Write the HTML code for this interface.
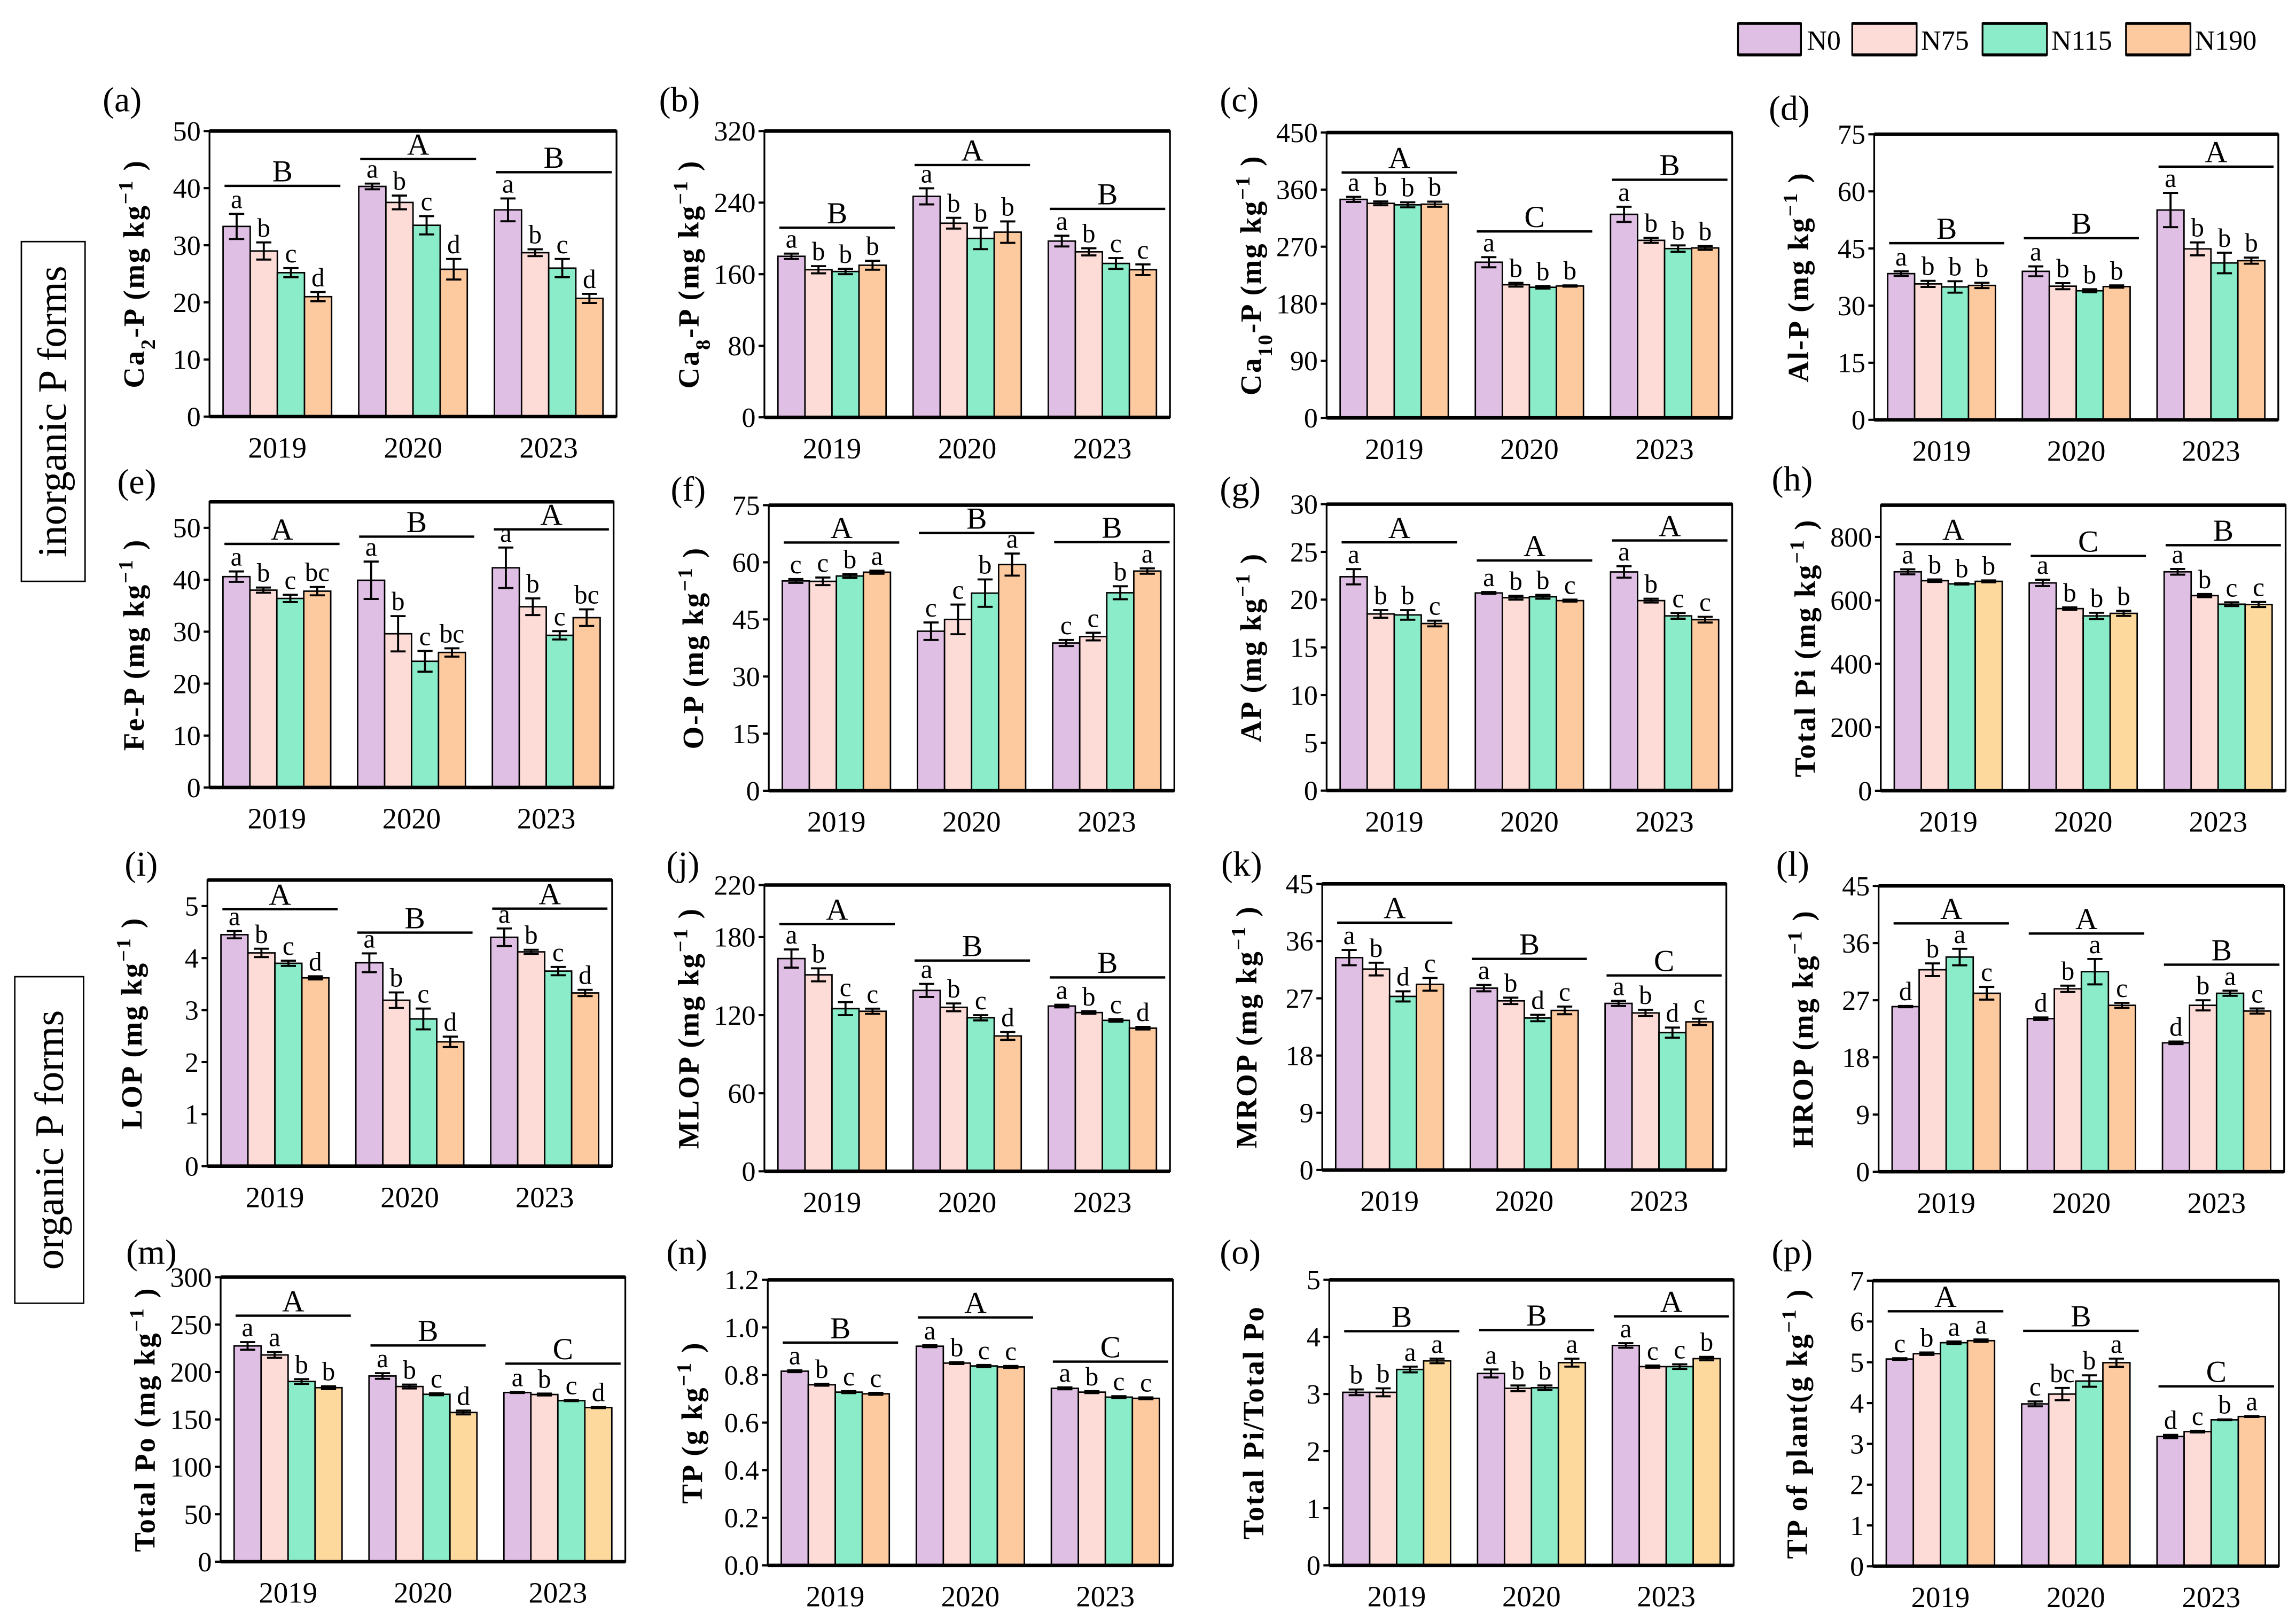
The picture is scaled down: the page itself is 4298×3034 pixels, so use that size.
<!DOCTYPE html>
<html><head><meta charset="utf-8"><title>P forms chart</title>
<style>
html,body{margin:0;padding:0;background:#fff;}
svg{display:block;}
text{font-family:"Liberation Serif",serif;fill:#000;}
</style></head>
<body>
<svg id="chart" xmlns="http://www.w3.org/2000/svg" width="4298" height="3034" viewBox="0 0 1568 1107">
<rect x="0" y="0" width="1568" height="1107" fill="#fff"/>
<g>
 <g><rect x="1187" y="16" width="43" height="21.5" fill="#e0bfe5" stroke="#000" stroke-width="1.2"/><line x1="1187" y1="16" x2="1230" y2="16" stroke="#000" stroke-width="2"/><line x1="1187" y1="37.5" x2="1230" y2="37.5" stroke="#000" stroke-width="2"/><text x="1234" y="34" font-size="19">N0</text></g>
 <g><rect x="1265" y="16" width="44" height="21.5" fill="#fddcd8" stroke="#000" stroke-width="1.2"/><line x1="1265" y1="16" x2="1309" y2="16" stroke="#000" stroke-width="2"/><line x1="1265" y1="37.5" x2="1309" y2="37.5" stroke="#000" stroke-width="2"/><text x="1312" y="34" font-size="19">N75</text></g>
 <g><rect x="1354" y="16" width="44" height="21.5" fill="#8aecc8" stroke="#000" stroke-width="1.2"/><line x1="1354" y1="16" x2="1398" y2="16" stroke="#000" stroke-width="2"/><line x1="1354" y1="37.5" x2="1398" y2="37.5" stroke="#000" stroke-width="2"/><text x="1401" y="34" font-size="19">N115</text></g>
 <g><rect x="1452" y="16" width="44" height="21.5" fill="#fdc99e" stroke="#000" stroke-width="1.2"/><line x1="1452" y1="16" x2="1496" y2="16" stroke="#000" stroke-width="2"/><line x1="1452" y1="37.5" x2="1496" y2="37.5" stroke="#000" stroke-width="2"/><text x="1499" y="34" font-size="19">N190</text></g>
</g>
<g>
 <rect x="14.5" y="165" width="43.5" height="232" fill="none" stroke="#000" stroke-width="1"/>
 <text x="0" y="0" font-size="28" text-anchor="middle" transform="translate(45,281) rotate(-90)">inorganic P forms</text>
</g>
<g>
 <rect x="10" y="667" width="47" height="223" fill="none" stroke="#000" stroke-width="1"/>
 <text x="0" y="0" font-size="28" text-anchor="middle" transform="translate(43,778.5) rotate(-90)">organic P forms</text>
</g>
<g id="panels"></g>
</svg>
<script>
const groups = ['2019','2020','2023'];
const seriesNames = ['N0','N75','N115','N190'];

const aVal = [33.3,29,25.2,21, 40.3,37.5,33.5,25.8, 36.2,28.7,26,20.7];
const aErr = [2.2,1.5,0.8,0.8, 0.5,1.2,1.6,1.8, 2,0.6,1.6,0.8];
const aLet = ['a','b','c','d','a','b','c','d','a','b','c','d'];
const aGrp = ['B','A','B'];
const aLine = [40.4,45.1,42.8];

const bVal = [180,165,163,170, 247,217,200,207, 197,185,172,165];
const bErr = [3,4,3,5, 9,6,12,12, 6,4,6,6];
const bLet = ['a','b','b','b','a','b','b','b','a','b','c','c'];
const bGrp = ['B','A','B'];
const bLine = [212,282,233];

const cVal = [344.6,338.3,336,337, 245.5,210,206,208, 321,280,267,268];
const cErr = [4,3,4,4, 8,3,2,1, 12,4,5,3];
const cLet = ['a','b','b','b','a','b','b','b','a','b','b','b'];
const cGrp = ['A','C','B'];
const cLine = [387,294,375.5];

const dVal = [38.4,35.7,34.9,35.3, 39,35.1,33.9,35, 55.1,44.9,41.2,41.8];
const dErr = [0.6,0.8,1.5,0.7, 1.3,0.8,0.4,0.3, 4.5,1.7,2.7,0.8];
const dLet = ['a','b','b','b','a','b','b','b','a','b','b','b'];
const dGrp = ['B','B','A'];
const dLine = [46.4,47.7,66.5];

const eVal = [40.6,38,36.4,37.8, 39.9,29.6,24.3,26, 42.3,34.8,29.3,32.7];
const eErr = [1,0.5,0.7,0.8, 3.6,3.4,2,0.8, 3.9,1.6,0.8,1.6];
const eLet = ['a','b','c','bc','a','b','c','bc','a','b','c','bc'];
const eGrp = ['A','B','A'];
const eLine = [46.9,48.3,49.7];

const fVal = [55.1,55,56.4,57.4, 41.9,45,51.9,59.4, 38.8,40.5,52,57.7];
const fErr = [0.5,1,0.5,0.4, 2.3,3.9,3.6,2.9, 0.8,1,1.7,0.7];
const fLet = ['c','c','b','a','c','c','b','a','c','c','b','a'];
const fGrp = ['A','B','B'];
const fLine = [65.2,67.7,65.3];

const gVal = [22.4,18.5,18.4,17.5, 20.7,20.2,20.3,19.9, 22.9,19.9,18.3,17.9];
const gErr = [0.8,0.4,0.5,0.3, 0.1,0.2,0.2,0.1, 0.6,0.2,0.3,0.3];
const gLet = ['a','b','b','c','a','b','b','c','a','b','c','c'];
const gGrp = ['A','A','A'];
const gLine = [26,24.1,26.2];

const hVal = [690,662,652,660, 655,574,551,559, 690,615,588,587];
const hErr = [8,4,2,3, 10,4,10,8, 9,5,6,8];
const hLet = ['a','b','b','b','a','b','b','b','a','b','c','c'];
const hGrp = ['A','C','B'];
const hLine = [777,740,774];

const iVal = [4.45,4.1,3.9,3.62, 3.91,3.19,2.83,2.39, 4.4,4.12,3.75,3.33];
const iErr = [0.07,0.08,0.05,0.03, 0.18,0.15,0.2,0.1, 0.17,0.04,0.08,0.06];
const iLet = ['a','b','c','d','a','b','c','d','a','b','c','d'];
const iGrp = ['A','B','A'];
const iLine = [4.94,4.49,4.95];

const jVal = [163.5,151,125,123, 139,126,118,104, 127,122,116,110];
const jErr = [7,5,5,2, 5,3,2,3, 1,1,1,1];
const jLet = ['a','b','c','c','a','b','c','d','a','b','c','d'];
const jGrp = ['A','B','B'];
const jLine = [190,162,149];

const kVal = [33.4,31.6,27.3,29.2, 28.6,26.6,23.9,25.1, 26.2,24.7,21.6,23.3];
const kErr = [1.2,1,0.8,1, 0.5,0.5,0.5,0.6, 0.4,0.5,0.8,0.5];
const kLet = ['a','b','d','c','a','b','d','c','a','b','d','c'];
const kGrp = ['A','B','C'];
const kLine = [38.9,33.2,30.6];

const lVal = [26,31.8,33.8,28.1, 24.1,28.8,31.5,26.2, 20.3,26.2,28.1,25.3];
const lErr = [0.1,1,1.3,1, 0.2,0.5,2,0.4, 0.2,0.8,0.4,0.4];
const lLet = ['d','b','a','c','d','b','a','c','d','b','a','c'];
const lGrp = ['A','A','B'];
const lLine = [39.1,37.5,32.6];

const mVal = [227.5,218,190,183.5, 195.8,184.7,176.5,157.3, 178.4,176.3,169.8,162.5];
const mErr = [4,3,2.5,1.5, 3,2,1,2, 0.5,1,0.5,0.5];
const mLet = ['a','a','b','b','a','b','c','d','a','b','c','d'];
const mGrp = ['A','B','C'];
const mLine = [259.4,228,208.8];

const nVal = [0.816,0.759,0.728,0.721, 0.921,0.85,0.838,0.834, 0.744,0.728,0.707,0.702];
const nErr = [0.004,0.004,0.004,0.004, 0.004,0.004,0.004,0.004, 0.004,0.004,0.004,0.004];
const nLet = ['a','b','c','c','a','b','c','c','a','b','c','c'];
const nGrp = ['B','A','C'];
const nLine = [0.936,1.042,0.856];

const oVal = [3.03,3.03,3.43,3.58, 3.36,3.1,3.11,3.55, 3.85,3.48,3.48,3.62];
const oErr = [0.05,0.07,0.05,0.04, 0.07,0.05,0.04,0.07, 0.04,0.02,0.04,0.03];
const oLet = ['b','b','a','a','a','b','b','a','a','c','c','b'];
const oGrp = ['B','B','A'];
const oLine = [4.1,4.12,4.36];

const pVal = [5.08,5.21,5.48,5.53, 3.98,4.22,4.54,4.99, 3.18,3.3,3.59,3.67];
const pErr = [0.02,0.03,0.03,0.03, 0.06,0.15,0.14,0.1, 0.04,0.02,0.01,0.01];
const pLet = ['c','b','a','a','c','bc','b','a','d','c','b','a'];
const pGrp = ['A','B','C'];
const pLine = [6.25,5.77,4.41];

const ticksA = [0,10,20,30,40,50];
const ticksB = [0,80,160,240,320];
const ticksC = [0,90,180,270,360,450];
const ticksD = [0,15,30,45,60,75];
const ticksG = [0,5,10,15,20,25,30];
const ticksH = [0,200,400,600,800];
const ticksI = [0,1,2,3,4,5];
const ticksJ = [0,60,120,180,220];
const ticksK = [0,9,18,27,36,45];
const ticksM = [0,50,100,150,200,250,300];
const ticksN = [0,0.2,0.4,0.6,0.8,1.0,1.2];
const ticksO = [0,1,2,3,4,5];
const ticksP = [0,1,2,3,4,5,6,7];

const SUP = '<tspan baseline-shift="super" font-size="14">−1</tspan><tspan baseline-shift="0"> )</tspan>';
const orange = '#fdc99e', yellow = '#fdd99e';

const panels = [
 {id:'a', x0:143,x1:421,y0:89.5,y1:284.5,ymax:50,ticks:ticksA,dec:0,v:aVal,e:aErr,l:aLet,g:aGrp,gl:aLine,c4:orange,lx:70,ly:76,title:'Ca<tspan baseline-shift="sub" font-size="14">2</tspan><tspan baseline-shift="0">-P (mg kg</tspan>'+SUP},
 {id:'b', x0:522,x1:799,y0:89.5,y1:285,ymax:320,ticks:ticksB,dec:0,v:bVal,e:bErr,l:bLet,g:bGrp,gl:bLine,c4:orange,lx:450,ly:76,title:'Ca<tspan baseline-shift="sub" font-size="14">8</tspan><tspan baseline-shift="0">-P (mg kg</tspan>'+SUP},
 {id:'c', x0:906,x1:1183,y0:90.5,y1:285.4,ymax:450,ticks:ticksC,dec:0,v:cVal,e:cErr,l:cLet,g:cGrp,gl:cLine,c4:orange,lx:833,ly:76,title:'Ca<tspan baseline-shift="sub" font-size="14">10</tspan><tspan baseline-shift="0">-P (mg kg</tspan>'+SUP},
 {id:'d', x0:1280,x1:1556,y0:91.7,y1:286.7,ymax:75,ticks:ticksD,dec:0,v:dVal,e:dErr,l:dLet,g:dGrp,gl:dLine,c4:orange,lx:1208,ly:82,title:'Al-P (mg kg'+SUP},
 {id:'e', x0:143,x1:419,y0:342.7,y1:537.8,ymax:55,ticks:ticksA,dec:0,v:eVal,e:eErr,l:eLet,g:eGrp,gl:eLine,c4:orange,lx:80,ly:337,title:'Fe-P (mg kg'+SUP},
 {id:'f', x0:525,x1:802,y0:345,y1:540,ymax:75,ticks:ticksD,dec:0,v:fVal,e:fErr,l:fLet,g:fGrp,gl:fLine,c4:orange,lx:458,ly:342,title:'O-P (mg kg'+SUP},
 {id:'g', x0:906,x1:1183,y0:344.3,y1:539.9,ymax:30,ticks:ticksG,dec:0,v:gVal,e:gErr,l:gLet,g:gGrp,gl:gLine,c4:orange,lx:833,ly:342,title:'AP (mg kg'+SUP},
 {id:'h', x0:1284.5,x1:1561,y0:345,y1:540,ymax:900,ticks:ticksH,dec:0,v:hVal,e:hErr,l:hLet,g:hGrp,gl:hLine,c4:yellow,lx:1210,ly:335,title:'Total Pi (mg kg'+SUP},
 {id:'i', x0:141.6,x1:418,y0:601,y1:796.4,ymax:5.5,ticks:ticksI,dec:0,v:iVal,e:iErr,l:iLet,g:iGrp,gl:iLine,c4:orange,lx:85,ly:598,title:'LOP (mg kg'+SUP},
 {id:'j', x0:522,x1:799,y0:604.4,y1:799.9,ymax:220,ticks:ticksJ,dec:0,v:jVal,e:jErr,l:jLet,g:jGrp,gl:jLine,c4:orange,lx:455,ly:598,title:'MLOP (mg kg'+SUP},
 {id:'k', x0:903,x1:1179,y0:603.6,y1:799,ymax:45,ticks:ticksK,dec:0,v:kVal,e:kErr,l:kLet,g:kGrp,gl:kLine,c4:orange,lx:834,ly:598,title:'MROP (mg kg'+SUP},
 {id:'l', x0:1283,x1:1560,y0:605,y1:800.2,ymax:45,ticks:ticksK,dec:0,v:lVal,e:lErr,l:lLet,g:lGrp,gl:lLine,c4:orange,lx:1213,ly:598,title:'HROP (mg kg'+SUP},
 {id:'m', x0:150.6,x1:427,y0:872.2,y1:1066.5,ymax:300,ticks:ticksM,dec:0,v:mVal,e:mErr,l:mLet,g:mGrp,gl:mLine,c4:yellow,lx:86,ly:863,title:'Total  Po (mg kg'+SUP},
 {id:'n', x0:524.3,x1:801,y0:874,y1:1069,ymax:1.2,ticks:ticksN,dec:1,v:nVal,e:nErr,l:nLet,g:nGrp,gl:nLine,c4:orange,lx:455,ly:863,title:'TP (g kg'+SUP},
 {id:'o', x0:907.8,x1:1184,y0:874,y1:1069,ymax:5,ticks:ticksO,dec:0,v:oVal,e:oErr,l:oLet,g:oGrp,gl:oLine,c4:yellow,lx:833,ly:863,title:'Total Pi/Total  Po'},
 {id:'p', x0:1279,x1:1556.4,y0:874.6,y1:1069.6,ymax:7,ticks:ticksP,dec:0,v:pVal,e:pErr,l:pLet,g:pGrp,gl:pLine,c4:orange,lx:1210,ly:863,title:'TP of plant(g kg'+SUP}
];

const NS = 'http://www.w3.org/2000/svg';
function mk(tag, attrs, parent){
  const el = document.createElementNS(NS, tag);
  for (const k in attrs) el.setAttribute(k, attrs[k]);
  parent.appendChild(el);
  return el;
}
const root = document.getElementById('panels');

panels.forEach(p => {
  const colors = ['#e0bfe5','#fddcd8','#8aecc8', p.c4];
  const G = mk('g', {}, root);
  
  
  const yS = v => p.y1 - (v / p.ymax) * (p.y1 - p.y0);
  const W = p.x1 - p.x0, gw = W / 3, bw = gw * 0.2;
  const xC = i => p.x0 + gw * (i + 0.5);

  const lab = mk('text', {x:p.lx, y:p.ly, 'font-size':24}, G);
  lab.textContent = '(' + p.id + ')';
  
  

  const tt = mk('text', {x:0, y:0, 'font-size':20, 'font-weight':'bold', 'letter-spacing':'1', 'text-anchor':'middle', transform:'translate(' + (p.x0 - 45) + ',' + ((p.y0 + p.y1) / 2) + ') rotate(-90)'}, G);
  tt.innerHTML = p.title;
  
  

  p.ticks.forEach(t => {
    const y = yS(t);
    const tk = mk('line', {x1:p.x0 - 4, x2:p.x0, y1:y, y2:y, stroke:'#000', 'stroke-width':1.5}, G);
    
    
    const tl = mk('text', {x:p.x0 - 6, y:y + 6.5, 'font-size':19, 'text-anchor':'end'}, G);
    tl.textContent = p.dec ? t.toFixed(p.dec) : String(t);
    
    
  });

  groups.forEach((yr, gi) => {
    const cx = xC(gi);
    seriesNames.forEach((s, si) => {
      const k = gi * 4 + si;
      const v = p.v[k], e = p.e[k];
      const bx = cx - 2 * bw + si * bw;
      const r = mk('rect', {x:bx, y:yS(v), width:bw, height:p.y1 - yS(v), fill:colors[si], stroke:'#000', 'stroke-width':1}, G);
      
      
      const mx = bx + bw / 2, cw = bw * 0.28;
      const eb = mk('path', {d:'M' + mx + ' ' + yS(v + e) + 'V' + yS(v - e) + 'M' + (mx - cw) + ' ' + yS(v + e) + 'H' + (mx + cw) + 'M' + (mx - cw) + ' ' + yS(v - e) + 'H' + (mx + cw), stroke:'#000', 'stroke-width':1.4, fill:'none'}, G);
      
      
      const lt = mk('text', {x:mx, y:yS(v + e) - 4, 'font-size':18, 'text-anchor':'middle'}, G);
      lt.textContent = p.l[k];
      
      
    });
    const ly = yS(p.gl[gi]);
    const lx1 = cx - 2 * bw + 1, lx2 = Math.min(cx + 2 * bw + 6, p.x1);
    const gline = mk('line', {x1:lx1, x2:lx2, y1:ly, y2:ly, stroke:'#000', 'stroke-width':1.6}, G);
    
    
    const gt = mk('text', {x:(lx1 + lx2) / 2, y:ly - 3, 'font-size':21, 'text-anchor':'middle'}, G);
    gt.textContent = p.g[gi];
    
    
    const xl = mk('text', {x:cx, y:p.y1 + 28, 'font-size':20, 'text-anchor':'middle'}, G);
    xl.textContent = yr;
    
    
  });

  const fr = mk('rect', {x:p.x0, y:p.y0, width:W, height:p.y1 - p.y0, fill:'none', stroke:'#000', 'stroke-width':1.2}, G);
  
  
  const tb = mk('path', {d:'M' + p.x0 + ' ' + p.y0 + 'H' + p.x1 + 'M' + p.x0 + ' ' + p.y1 + 'H' + p.x1, stroke:'#000', 'stroke-width':2.4}, G);
  
  
});
</script>
</body></html>
